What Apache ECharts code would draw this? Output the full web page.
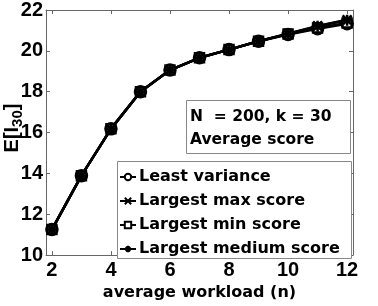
<!DOCTYPE html>
<html><head><meta charset="utf-8">
<script src="https://cdn.jsdelivr.net/npm/echarts@6/dist/echarts.min.js"></script>
<style>html,body{margin:0;padding:0;background:#fff}#c{width:378px;height:306px}</style>
</head><body><div id="c"></div>
<script>
var xValues = [2,3,4,5,6,7,8,9,10,11,12];
var leastVariance   = [11.25,13.89,16.18,18.0,19.06,19.66,20.06,20.47,20.80,21.08,21.33];
var largestMax      = [11.25,13.89,16.18,18.0,19.06,19.66,20.06,20.47,20.84,21.22,21.52];
var largestMin      = [11.25,13.89,16.18,18.0,19.06,19.66,20.06,20.47,20.82,21.12,21.36];
var largestMedium   = [11.25,13.89,16.18,18.0,19.06,19.66,20.06,20.47,20.84,21.20,21.50];
var seriesNames = ['Least variance','Largest max score','Largest min score','Largest medium score'];
var xTicks = [2,4,6,8,10,12];
var yTicks = [10,12,14,16,18,20,22];

var FONT = '"Liberation Sans", Arial, sans-serif';
var WFONT = '"DejaVu Sans", sans-serif';
var xSym = 'path://M0,0L10,10M10,0L0,10';
var starSym = 'path://M5,0L5,10M0,5L10,5M1.5,1.5L8.5,8.5M8.5,1.5L1.5,8.5';
var pairs = function(arr){ return xValues.map(function(x,i){return [x,arr[i]];}); };

var chart = echarts.init(document.getElementById('c'));
var axisGray = '#666';
function mkSeries(name, arr, sym, size, fill){
  return {name:name, type:'line', data:pairs(arr), symbol:sym, symbolSize:size,
    lineStyle:{color:'#000',width:2.5},
    itemStyle:{color:fill,borderColor:'#000',borderWidth:2.5},
    emphasis:{disabled:true}, animation:false, z:3};
}
chart.setOption({
  animation:false,
  grid:{left:46,right:25,top:10,bottom:43},
  xAxis:[{type:'value',min:1.8,max:12.2,
    axisLine:{lineStyle:{color:axisGray,width:1}},
    axisTick:{inside:true,length:4,lineStyle:{color:axisGray},customValues:xTicks},
    splitLine:{show:false},
    axisLabel:{color:'#000',fontFamily:FONT,fontWeight:'bold',fontSize:20,margin:5,
      customValues:xTicks},
    name:'average workload (n)',nameLocation:'middle',nameGap:29,
    nameTextStyle:{color:'#000',fontFamily:WFONT,fontWeight:'bold',fontSize:16}},
   {type:'value',position:'top',min:1.8,max:12.2,
    axisLine:{lineStyle:{color:axisGray,width:1}},
    axisTick:{inside:true,length:4,lineStyle:{color:axisGray},customValues:xTicks},
    axisLabel:{show:false,customValues:xTicks},splitLine:{show:false}}],
  yAxis:[{type:'value',min:10,max:22,interval:2,
    axisLine:{show:true,lineStyle:{color:axisGray,width:1}},
    axisTick:{show:true,inside:true,length:4,lineStyle:{color:axisGray}},
    splitLine:{show:false},
    axisLabel:{color:'#000',fontFamily:FONT,fontWeight:'bold',fontSize:20,margin:3}},
   {type:'value',position:'right',min:10,max:22,interval:2,
    axisLine:{show:true,lineStyle:{color:axisGray,width:1}},
    axisTick:{show:true,inside:true,length:4,lineStyle:{color:axisGray}},
    axisLabel:{show:false},splitLine:{show:false}}],
  legend:{left:119,top:168,orient:'vertical',itemWidth:16,itemHeight:8,itemGap:6,
    padding:0,data:seriesNames,
    textStyle:{color:'#000',fontFamily:WFONT,fontWeight:'bold',fontSize:16,lineHeight:18,padding:[0,0,0,-2]}},
  graphic:[
    {type:'rect',shape:{x:186.5,y:100.5,width:164,height:53},style:{fill:'#fff',stroke:'#888',lineWidth:1},z:10},
    {type:'text',x:190,y:105,style:{text:'N  = 200, k = 30\nAverage score',fill:'#000',
      font:'bold 15.5px '+WFONT,lineHeight:23},z:11},
    {type:'rect',shape:{x:117.5,y:161.5,width:234,height:97},style:{fill:'#fff',stroke:'#888',lineWidth:1},z:1},
    {type:'text',x:12,y:128,rotation:Math.PI/2,style:{
      text:'{a|E[I}{b|30}{a|]}',align:'center',verticalAlign:'middle',
      rich:{a:{font:'bold 20px '+FONT,fill:'#000'},b:{font:'bold 15px '+FONT,fill:'#000',padding:[12,0,0,0]}}},z:11}
  ],
  series:[
    mkSeries(seriesNames[0], leastVariance, 'circle', 11, '#fff'),
    mkSeries(seriesNames[1], largestMax, xSym, 9, '#000'),
    mkSeries(seriesNames[2], largestMin, 'rect', 9, '#fff'),
    mkSeries(seriesNames[3], largestMedium, starSym, 11, '#000')
  ]
});
</script></body></html>
